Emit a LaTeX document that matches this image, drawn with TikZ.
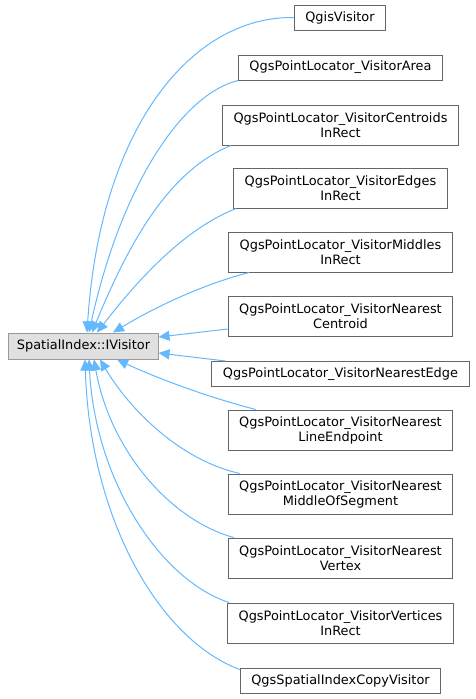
\documentclass[tikz,border=0pt]{standalone}
\usepackage{fontspec}
\setmainfont{DejaVu Sans}
\usetikzlibrary{arrows.meta}
\definecolor{edgeblue}{HTML}{63B8FF}
\definecolor{boxborder}{HTML}{666666}
\definecolor{basefill}{HTML}{E0E0E0}
\definecolor{baseborder}{HTML}{999999}
\tikzset{
  cls/.style={draw=boxborder, line width=1pt, fill=white, inner xsep=11pt, inner ysep=0pt,
    minimum height=25pt, align=center, font=\fontsize{12.9}{15}\selectfont, text=black},
  cls2/.style={cls, minimum height=40pt},
  basecls/.style={cls, draw=baseborder, fill=basefill, minimum height=26pt, inner xsep=8pt},
  inh/.style={draw=edgeblue, line width=1pt, {Triangle[length=11pt,width=10pt,fill=edgeblue]}-}
}
\begin{document}
\begin{tikzpicture}[x=1pt,y=-1pt]
\useasboundingbox (0,0) rectangle (476,699);
\node[basecls] (base) at (83.5,346) {SpatialIndex::IVisitor};
\node[cls] (qgis) at (340,17.5) {QgisVisitor};
\node[cls] (area) at (340.5,67.5) {QgsPointLocator\_VisitorArea};
\node[cls2] (cent) at (340.5,125) {QgsPointLocator\_VisitorCentroids\\InRect};
\node[cls2] (edges) at (340.5,188) {QgsPointLocator\_VisitorEdges\\InRect};
\node[cls2] (mid) at (340.5,252) {QgsPointLocator\_VisitorMiddles\\InRect};
\node[cls2] (ncent) at (340.5,316.5) {QgsPointLocator\_VisitorNearest\\Centroid};
\node[cls] (nedge) at (340.5,374) {QgsPointLocator\_VisitorNearestEdge};
\node[cls2] (lend) at (340.5,430) {QgsPointLocator\_VisitorNearest\\LineEndpoint};
\node[cls2] (mos) at (340.5,494) {QgsPointLocator\_VisitorNearest\\MiddleOfSegment};
\node[cls2] (vert) at (340.5,558) {QgsPointLocator\_VisitorNearest\\Vertex};
\node[cls2] (verts) at (340.5,623) {QgsPointLocator\_VisitorVertices\\InRect};
\node[cls] (copy) at (340.5,680.5) {QgsSpatialIndexCopyVisitor};

\draw[inh] ([xshift=3.5pt]base.north) .. controls (100,130) and (190,16) .. (qgis.west);
\draw[inh] ([xshift=5.5pt]base.north) .. controls (120,190) and (180,95) .. (area.south west);
\draw[inh] ([xshift=8.5pt]base.north) .. controls (130,240) and (170,170) .. ([xshift=9pt]cent.south west);
\draw[inh] ([xshift=13.5pt]base.north) .. controls (130,290) and (180,230) .. ([xshift=3pt]edges.south west);
\draw[inh] ([xshift=29.5pt]base.north) .. controls (150,310) and (200,285) .. ([xshift=21pt]mid.south west);
\draw[inh] ([yshift=9pt]base.east) -- ([yshift=8pt]ncent.south west);
\draw[inh] ([yshift=-7pt]base.east) -- ([xshift=14pt]nedge.north west);
\draw[inh] ([xshift=33.5pt]base.south) .. controls (150,375) and (200,395) .. ([xshift=28pt]lend.north west);
\draw[inh] ([xshift=16.5pt]base.south) .. controls (130,410) and (180,460) .. ([xshift=12pt]mos.north west);
\draw[inh] ([xshift=10.5pt]base.south) .. controls (110,450) and (170,520) .. ([xshift=6pt]vert.north west);
\draw[inh] ([xshift=5.5pt]base.south) .. controls (95,480) and (160,580) .. ([xshift=2pt]verts.north west);
\draw[inh] ([xshift=1.5pt]base.south) .. controls (90,520) and (160,640) .. ([yshift=-2pt]copy.north west);
\end{tikzpicture}
\end{document}
